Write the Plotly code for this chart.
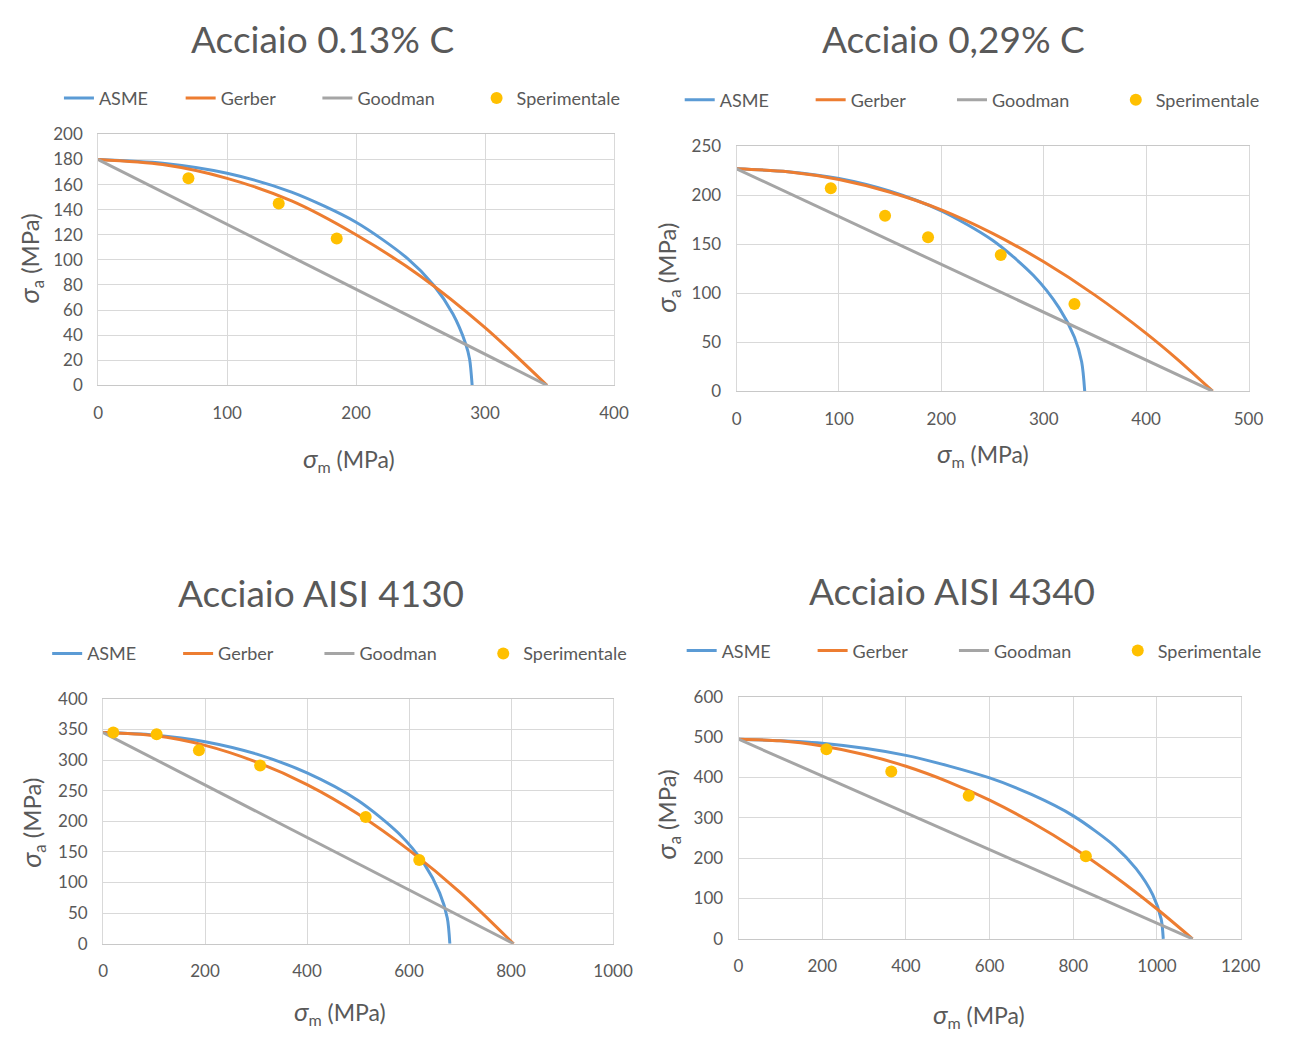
import plotly.graph_objects as go

W, H = 1295, 1040

# ---------------- data ----------------
titles = ["Acciaio 0.13% C", "Acciaio 0,29% C", "Acciaio AISI 4130", "Acciaio AISI 4340"]
series_names = ["ASME", "Gerber", "Goodman", "Sperimentale"]

# Chart 1 : Acciaio 0.13% C
c1_asme_x = [0, 50, 100, 150, 200, 240, 260, 275, 285, 288, 290]
c1_asme_y = [180, 177, 169, 154, 130, 101, 80, 57, 33, 21, 0]
c1_gerber_x = [0, 50, 100, 150, 200, 250, 300, 348]
c1_gerber_y = [180, 176, 165, 147, 120, 87, 46, 0]
c1_goodman_x = [0, 348]
c1_goodman_y = [180, 0]
c1_exp_x = [70, 140, 185]
c1_exp_y = [165, 145, 117]

# Chart 2 : Acciaio 0,29% C
c2_asme_x = [0, 50, 100, 150, 200, 250, 290, 315, 330, 337, 340]
c2_asme_y = [227, 224, 217, 204, 184, 154, 118, 85, 55, 30, 0]
c2_gerber_x = [0, 50, 100, 150, 200, 250, 300, 350, 400, 430, 465]
c2_gerber_y = [227, 224, 216, 203, 185, 161, 132, 98, 59, 33, 0]
c2_goodman_x = [0, 465]
c2_goodman_y = [227, 0]
c2_exp_x = [92, 145, 187, 258, 330]
c2_exp_y = [207, 179, 157, 139, 89]

# Chart 3 : Acciaio AISI 4130
c3_asme_x = [0, 100, 200, 300, 400, 500, 580, 630, 660, 675, 680]
c3_asme_y = [345, 341, 330, 310, 279, 234, 180, 130, 83, 42, 0]
c3_gerber_x = [0, 100, 200, 300, 400, 500, 600, 700, 805]
c3_gerber_y = [345, 340, 324, 297, 260, 212, 153, 84, 0]
c3_goodman_x = [0, 805]
c3_goodman_y = [345, 0]
c3_exp_x = [20, 105, 188, 308, 515, 620]
c3_exp_y = [345, 342, 316, 291, 207, 137]

# Chart 4 : Acciaio AISI 4340
c4_asme_x = [0, 200, 400, 600, 700, 800, 900, 950, 990, 1010, 1015]
c4_asme_y = [495, 485, 455, 399, 358, 305, 229, 174, 109, 49, 0]
c4_gerber_x = [0, 100, 200, 300, 400, 500, 600, 700, 800, 900, 1000, 1085]
c4_gerber_y = [495, 491, 478, 457, 428, 390, 344, 289, 226, 154, 74, 0]
c4_goodman_x = [0, 1085]
c4_goodman_y = [495, 0]
c4_exp_x = [210, 365, 550, 830]
c4_exp_y = [470, 415, 355, 205]

x_ranges = [[0, 400], [0, 500], [0, 1000], [0, 1200]]
x_dticks = [100, 100, 200, 200]
y_ranges = [[0, 200], [0, 250], [0, 400], [0, 600]]
y_dticks = [20, 50, 50, 100]

series = [
    (c1_asme_x, c1_asme_y, c1_gerber_x, c1_gerber_y, c1_goodman_x, c1_goodman_y, c1_exp_x, c1_exp_y),
    (c2_asme_x, c2_asme_y, c2_gerber_x, c2_gerber_y, c2_goodman_x, c2_goodman_y, c2_exp_x, c2_exp_y),
    (c3_asme_x, c3_asme_y, c3_gerber_x, c3_gerber_y, c3_goodman_x, c3_goodman_y, c3_exp_x, c3_exp_y),
    (c4_asme_x, c4_asme_y, c4_gerber_x, c4_gerber_y, c4_goodman_x, c4_goodman_y, c4_exp_x, c4_exp_y),
]

# ---------------- layout helpers ----------------
def px(x):
    return x / W

def py(y):
    return 1 - y / H

NB = "\u00a0"
# spacing after each legend entry (non-breaking spaces), per chart
legend_pads = [[6, 8, 8, 0], [8, 9, 9, 0], [8, 9, 9, 0], [8, 9, 9, 0]]

# plot areas in pixels: (left, right, top, bottom)
areas = [(95, 621, 126, 382), (746, 1268, 138, 388), (100, 620, 702, 952), (748, 1260, 700, 947)]
title_pos = [(324, 28), (967, 28), (322, 593), (966, 591)]
legend_left = [55, 688, 43, 690]
legend_mid_y = [89, 91, 656, 653]
ytitle_pos = [(25, 253), (675, 262), (28, 828), (675, 820)]
xtitle_pos = [(351, 457), (997, 452), (342, 1022), (993, 1025)]

C_ASME = "#5B9BD5"
C_GERBER = "#ED7D31"
C_GOODMAN = "#A5A5A5"
C_EXP = "#FFC000"
TXT = "#595959"
GRID = "#D9D9D9"
FONT = "Lato, Open Sans, sans-serif"

fig = go.Figure()
layout = dict(
    width=W, height=H, margin=dict(l=0, r=0, t=0, b=0), autosize=False,
    paper_bgcolor="white", plot_bgcolor="white",
    font=dict(family=FONT, color=TXT), showlegend=True,
)
annotations = []

for i in range(4):
    n = "" if i == 0 else str(i + 1)
    xa, ya = "x" + n, "y" + n
    lg = "legend" + n
    nm = [series_names[k] + NB * legend_pads[i][k] for k in range(4)]
    ax, ay, gx, gy, dx, dy, ex, ey = series[i]
    fig.add_trace(go.Scatter(x=ax, y=ay, mode="lines", name=nm[0], xaxis=xa, yaxis=ya, legend=lg,
                             line=dict(color=C_ASME, width=3, shape="spline", smoothing=0.8)))
    fig.add_trace(go.Scatter(x=gx, y=gy, mode="lines", name=nm[1], xaxis=xa, yaxis=ya, legend=lg,
                             line=dict(color=C_GERBER, width=3, shape="spline", smoothing=0.8)))
    fig.add_trace(go.Scatter(x=dx, y=dy, mode="lines", name=nm[2], xaxis=xa, yaxis=ya, legend=lg,
                             line=dict(color=C_GOODMAN, width=3)))
    fig.add_trace(go.Scatter(x=ex, y=ey, mode="markers", name=nm[3], xaxis=xa, yaxis=ya, legend=lg,
                             marker=dict(color=C_EXP, size=12)))

    l, r, t, b = areas[i]
    layout["xaxis" + n] = dict(
        domain=[px(l), px(r)], anchor=ya, range=x_ranges[i], dtick=x_dticks[i], tick0=0,
        showgrid=True, gridcolor=GRID, gridwidth=1, zeroline=False,
        showline=True, linecolor="#C8C8C8", linewidth=1, mirror=True,
        ticks="outside", ticklen=12, tickcolor="rgba(0,0,0,0)",
        tickfont=dict(size=17, color=TXT, family=FONT), fixedrange=True,
    )
    layout["yaxis" + n] = dict(
        domain=[py(b), py(t)], anchor=xa, range=y_ranges[i], dtick=y_dticks[i], tick0=0,
        showgrid=True, gridcolor=GRID, gridwidth=1, zeroline=False,
        showline=True, linecolor=GRID, linewidth=1, mirror=True,
        ticks="outside", ticklen=11, tickcolor="rgba(0,0,0,0)",
        tickfont=dict(size=17, color=TXT, family=FONT), fixedrange=True,
    )
    layout[lg] = dict(
        orientation="h", x=px(legend_left[i]), y=py(legend_mid_y[i]), xanchor="left", yanchor="middle",
        xref="paper", yref="paper",
        font=dict(size=18, color=TXT, family=FONT), bgcolor="rgba(0,0,0,0)",
        itemwidth=30, traceorder="normal", tracegroupgap=0,
    )
    tx, ty = title_pos[i]
    annotations.append(dict(text=titles[i], x=px(tx), y=py(ty), xref="paper", yref="paper",
                            xanchor="center", yanchor="middle", showarrow=False,
                            font=dict(size=37, color=TXT, family=FONT)))
    yx, yy = ytitle_pos[i]
    annotations.append(dict(text="<i><span style='font-size:27px'>σ</span></i><sub>a</sub> (MPa)",
                            x=px(yx), y=py(yy), xref="paper", yref="paper",
                            xanchor="center", yanchor="middle", showarrow=False, textangle=-90,
                            font=dict(size=24, color=TXT, family=FONT)))
    xx, xy = xtitle_pos[i]
    annotations.append(dict(text="<i><span style='font-size:26px'>σ</span></i><sub>m</sub> (MPa)",
                            x=px(xx), y=py(xy), xref="paper", yref="paper",
                            xanchor="center", yanchor="middle", showarrow=False,
                            font=dict(size=23, color=TXT, family=FONT)))

layout["annotations"] = annotations
fig.update_layout(**layout)
fig.write_html("out.html")
